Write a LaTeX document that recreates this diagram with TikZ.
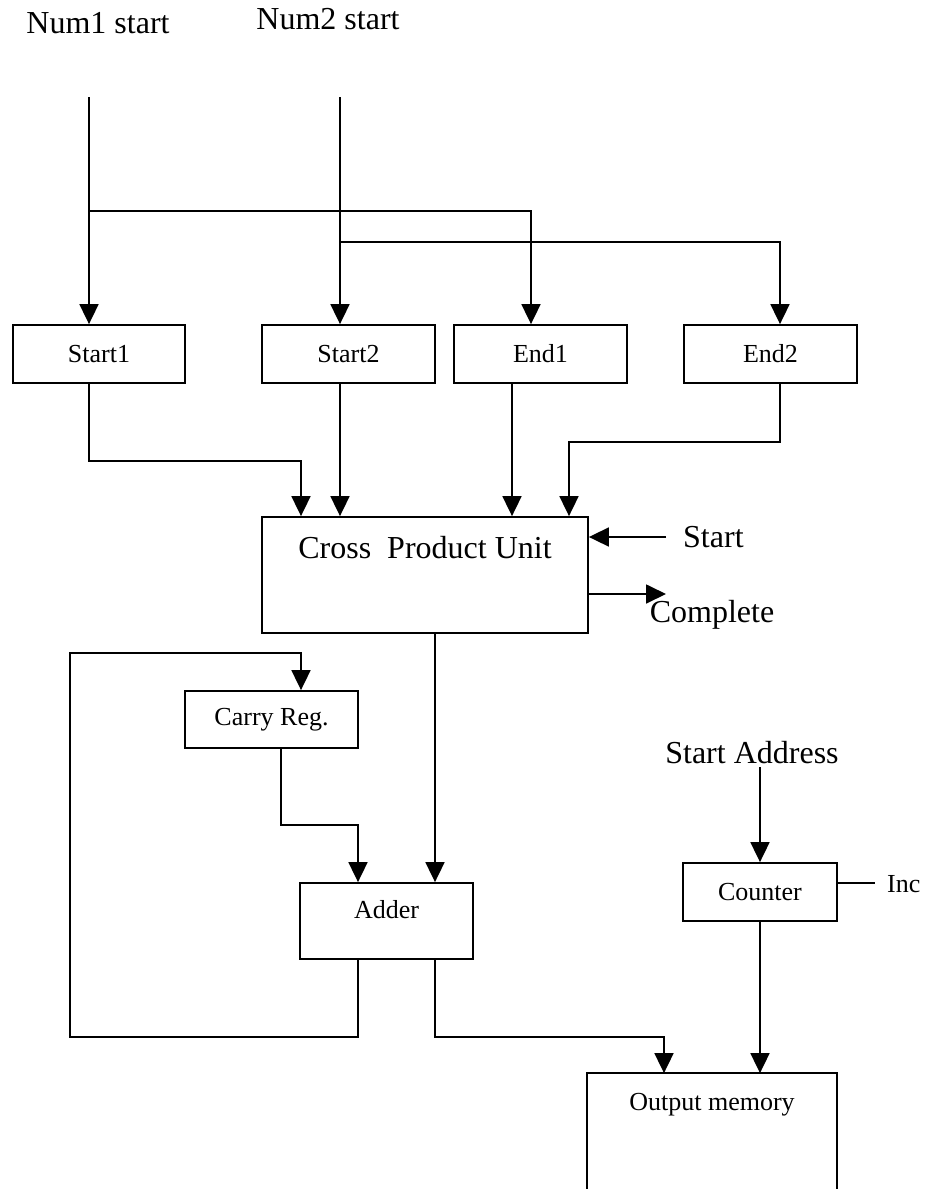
\documentclass[tikz,border=0pt]{standalone}
\usepackage{fontspec}
\setmainfont{Liberation Serif}
\usetikzlibrary{arrows.meta,calc}

\def\bigfont{\fontsize{32}{38}\selectfont}
\def\smallfont{\fontsize{26}{31}\selectfont}

\tikzset{
  wire/.style={line width=1.8pt},
  arr/.style={wire, -{Triangle[length=20pt,width=19pt]}},
  blk/.style={draw, line width=1.8pt, inner sep=0pt, font=\smallfont},
  bigtxt/.style={inner sep=0pt, font=\bigfont},
  smalltxt/.style={inner sep=0pt, font=\smallfont},
}

\begin{document}
\begin{tikzpicture}[x=1pt, y=-1pt]
\useasboundingbox (0,0) rectangle (925,1189);

% input labels and feed points
\node[bigtxt, anchor=base] (num1) at (98,33) {Num1 start};
\node[bigtxt, anchor=base] (num2) at (328,29) {Num2 start};
\coordinate (n1top) at (89,97);
\coordinate (n2top) at (340,97);
\coordinate (j1) at (89,211);
\coordinate (j2) at (340,242);

% address registers
\node[blk, minimum width=172pt, minimum height=58pt] (s1) at (99,354) {Start1};
\node[blk, minimum width=173pt, minimum height=58pt] (s2) at (348.5,354) {Start2};
\node[blk, minimum width=173pt, minimum height=58pt] (e1) at (540.5,354) {End1};
\node[blk, minimum width=173pt, minimum height=58pt] (e2) at (770.5,354) {End2};

% main unit
\node[blk, font=\bigfont, minimum width=326pt, minimum height=116pt,
      text height=41pt, text depth=75pt] (cpu) at (425,575) {Cross~~Product Unit};

% datapath
\node[blk, minimum width=173pt, minimum height=57pt] (carry) at (271.5,719.5) {Carry Reg.};
\node[blk, minimum width=173pt, minimum height=76pt,
      text height=35pt, text depth=41pt] (adder) at (386.5,921) {Adder};
\node[blk, minimum width=154pt, minimum height=58pt] (counter) at (760,892) {Counter};
\node[blk, draw=none, minimum width=248pt, minimum height=115pt,
      text height=36pt, text depth=79pt] (outmem) at (712,1131.5) {Output memory};
\draw[wire] (outmem.south west) -- (outmem.north west) -- (outmem.north east) -- (outmem.south east);

% control labels
\node[bigtxt, anchor=base west] (startlbl) at (683,547) {Start};
\node[bigtxt, anchor=base] (complbl) at (712,622) {Complete};
\node[bigtxt, anchor=base] (salbl) at (752,763) {Start Address};
\node[smalltxt, anchor=base west] (inclbl) at (887,892) {Inc};
\coordinate (startin) at (666,537);
\coordinate (compout) at (666,594);
\coordinate (sain) at (760,767);
\coordinate (incend) at (875,883);

% distribution of the two start pointers
\draw[arr] (n1top) -- (n1top |- s1.north);
\draw[arr] (n2top) -- (n2top |- s2.north);
\draw[arr] (j1) -| ([xshift=-9.5pt]e1.north);
\draw[arr] (j2) -| ([xshift=9.5pt]e2.north);

% registers into the cross product unit
\draw[arr] (s1.south -| n1top) -- ++(0,77) -| ([xshift=-124pt]cpu.north);
\draw[arr] (s2.south -| n2top) -- (cpu.north -| n2top);
\draw[arr] ([xshift=-28.5pt]e1.south) coordinate (e1o) -- (e1o |- cpu.north);
\draw[arr] ([xshift=9.5pt]e2.south) -- ++(0,58) -| ([xshift=144pt]cpu.north);

% control signals
\draw[arr] (startin) -- (startin -| cpu.east);
\draw[arr] (compout -| cpu.east) -- (compout);

% adder and carry loop
\draw[arr] ([xshift=10pt]cpu.south) coordinate (cpo) -- (cpo |- adder.north);
\draw[arr] ([xshift=9.5pt]carry.south) -- ++(0,76) -| ([xshift=-28.5pt]adder.north);
\draw[arr] ([xshift=-28.5pt]adder.south) -- ++(0,77) -- ++(-288,0) -- ++(0,-384)
           -| ([xshift=29.5pt]carry.north);
\draw[arr] ([xshift=48.5pt]adder.south) -- ++(0,77) -| ([xshift=-48pt]outmem.north);

% address counter
\draw[arr] (sain) -- (sain |- counter.north);
\draw[arr] (counter.south) -- (counter.south |- outmem.north);
\draw[wire] (incend -| counter.east) -- (incend);
\end{tikzpicture}
\end{document}
